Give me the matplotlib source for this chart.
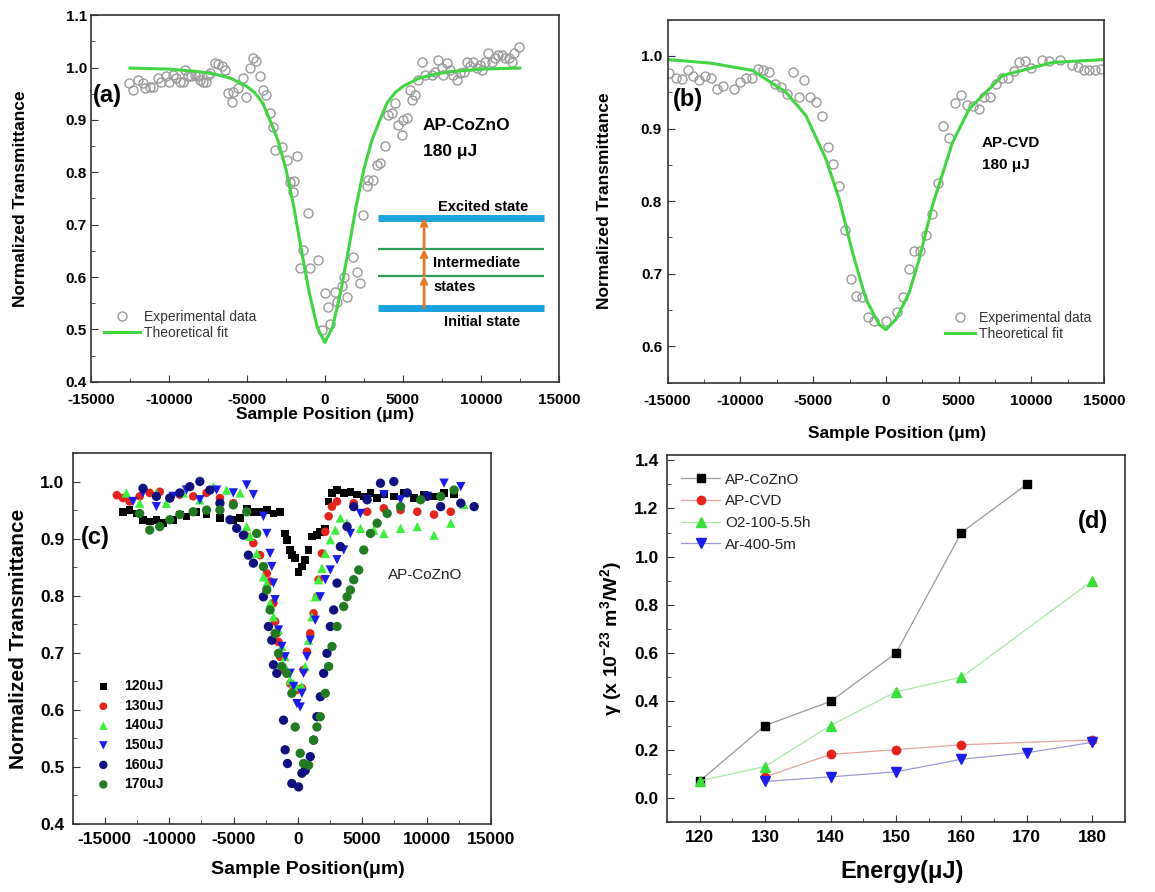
import matplotlib
matplotlib.use("Agg")
import matplotlib.pyplot as plt
from matplotlib.ticker import MultipleLocator, FormatStrFormatter

plt.rcParams['font.family'] = ['Liberation Sans', 'DejaVu Sans']
plt.rcParams['axes.unicode_minus'] = False
plt.rcParams['mathtext.fontset'] = 'custom'
plt.rcParams['mathtext.rm'] = 'Liberation Sans:bold'
plt.rcParams['mathtext.it'] = 'Liberation Sans:bold'

# ---- (a) AP-CoZnO, 180 uJ open-aperture z-scan ----
a_pos = [-12570, -12310, -11990, -11670, -11560, -11240, -11030, -10710, -10490, -10170,
         -10000, -9740, -9530, -9310, -9100, -8990, -8780, -8560, -8350, -8140,
         -8030, -7810, -7600, -7490, -7340, -7070, -6850, -6570, -6420, -6210,
         -5990, -5890, -5570, -5250, -5030, -4820, -4600, -4390, -4170, -3960,
         -3750, -3530, -3360, -3210, -2780, -2460, -2250, -2030, -1990, -1780,
         -1070, -1390, -1610, -960, -430, -210, 0, 210, 320, 640,
         790, 1070, 1220, 1430, 1820, 2030, 2250, 2420, 2680, 2780,
         3100, 3320, 3530, 3850, 4070, 4280, 4500, 4710, 4920, 5030,
         5250, 5460, 5570, 5780, 5990, 6210, 6420, 6850, 7070, 7280,
         7490, 7600, 7810, 8030, 8240, 8460, 8670, 8890, 9100, 9310,
         9530, 9740, 9960, 10060, 10280, 10490, 10710, 10920, 11070, 11350,
         11560, 11780, 11990, 12100, 12420]
a_T = [0.971, 0.957, 0.976, 0.970, 0.961, 0.962, 0.962, 0.980, 0.973, 0.983,
       0.973, 0.986, 0.980, 0.973, 0.973, 0.996, 0.984, 0.984, 0.986, 0.984,
       0.976, 0.973, 0.973, 0.986, 0.990, 1.008, 1.006, 1.003, 0.996, 0.951,
       0.935, 0.954, 0.961, 0.980, 0.943, 0.999, 1.018, 1.013, 0.984, 0.957,
       0.948, 0.913, 0.886, 0.843, 0.849, 0.824, 0.782, 0.763, 0.784, 0.831,
       0.722, 0.652, 0.617, 0.617, 0.632, 0.499, 0.569, 0.543, 0.511, 0.572,
       0.553, 0.582, 0.601, 0.562, 0.639, 0.610, 0.588, 0.718, 0.773, 0.785,
       0.785, 0.814, 0.817, 0.850, 0.910, 0.913, 0.932, 0.890, 0.871, 0.900,
       0.903, 0.957, 0.938, 0.948, 0.976, 1.011, 0.986, 0.986, 0.992, 1.015,
       0.999, 0.986, 1.008, 0.996, 0.986, 0.976, 0.989, 0.992, 1.011, 1.002,
       1.011, 0.999, 1.005, 0.996, 1.011, 1.027, 1.011, 1.018, 1.024, 1.024,
       1.018, 1.018, 1.011, 1.027, 1.040]
a_fit_pos = [-12500, -10000, -8000, -7000, -6000, -5000, -4500, -4000, -3500, -3000,
             -2500, -2000, -1500, -1000, -500, 0, 500, 1000, 1500, 2000,
             2500, 3000, 3500, 4000, 4500, 5000, 6000, 7000, 8000, 10000, 12500]
a_fit_T = [0.999, 0.997, 0.992, 0.987, 0.979, 0.964, 0.952, 0.933, 0.898, 0.860,
           0.806, 0.735, 0.650, 0.570, 0.505, 0.475, 0.505, 0.570, 0.650, 0.735,
           0.806, 0.860, 0.898, 0.933, 0.952, 0.964, 0.979, 0.987, 0.992, 0.997, 0.999]

# ---- (b) AP-CVD, 180 uJ ----
b_pos = [-14890, -14430, -14010, -13630, -13240, -12820, -12410, -12020, -11630, -11220,
         -10420, -10030, -9620, -9210, -8820, -8430, -8020, -7600, -7210, -6800,
         -6410, -6000, -5610, -5220, -4810, -4420, -4010, -3620, -3210, -2820,
         -2400, -2020, -1650, -1210, -800, 0, 760, 1150, 1560, 1950,
         2360, 2750, 3160, 3550, 3940, 4350, 4760, 5150, 5560, 6000,
         6370, 6760, 7150, 7560, 7970, 8360, 8770, 9160, 9570, 9960,
         10760, 11180, 11950, 12780, 13170, 13580, 13970, 14380, 14770]
b_T = [0.977, 0.969, 0.968, 0.981, 0.972, 0.967, 0.972, 0.970, 0.954, 0.959,
       0.954, 0.964, 0.969, 0.970, 0.982, 0.981, 0.978, 0.962, 0.957, 0.947,
       0.978, 0.943, 0.967, 0.943, 0.937, 0.917, 0.874, 0.851, 0.821, 0.760,
       0.693, 0.669, 0.668, 0.641, 0.635, 0.635, 0.648, 0.668, 0.707, 0.731,
       0.731, 0.754, 0.782, 0.825, 0.904, 0.887, 0.935, 0.946, 0.933, 0.931,
       0.927, 0.943, 0.943, 0.962, 0.969, 0.969, 0.979, 0.992, 0.993, 0.983,
       0.995, 0.993, 0.994, 0.988, 0.985, 0.980, 0.980, 0.980, 0.982]
b_fit_pos = [-15000, -12000, -9160, -6870, -5500, -4120, -3210, -2290, -1370, -460,
             0, 690, 1600, 2290, 3200, 4580, 5730, 8020, 11450, 15000]
b_fit_T = [0.995, 0.990, 0.980, 0.950, 0.918, 0.858, 0.803, 0.729, 0.665, 0.630,
           0.623, 0.637, 0.674, 0.720, 0.794, 0.881, 0.927, 0.973, 0.991, 0.995]

# ---- (c) AP-CoZnO at several pulse energies ----
c_labels = ['120uJ', '130uJ', '140uJ', '150uJ', '160uJ', '170uJ']
c_pos_120 = [-13600, -13080, -12560, -12040, -11520, -11000, -10480, -9700, -9180, -8660,
             -7880, -7100, -6060, -5020, -4500, -3980, -3460, -2940, -2420, -1900,
             -1380, -990, -860, -600, -470, -210, 50, 310, 570, 830,
             1090, 1480, 1740, 2130, 2390, 2650, 3040, 3560, 4080, 4600,
             5120, 5640, 6160, 6680, 7460, 8240, 9020, 9800, 10580, 11360, 12140]
c_T_120 = [0.947, 0.950, 0.944, 0.933, 0.930, 0.933, 0.927, 0.933, 0.942, 0.939,
           0.947, 0.942, 0.936, 0.933, 0.936, 0.953, 0.947, 0.947, 0.950, 0.944,
           0.947, 0.909, 0.898, 0.880, 0.871, 0.866, 0.842, 0.851, 0.863, 0.880,
           0.904, 0.906, 0.912, 0.918, 0.965, 0.980, 0.985, 0.980, 0.982, 0.977,
           0.974, 0.980, 0.971, 0.977, 0.974, 0.980, 0.971, 0.977, 0.974, 0.980, 0.977]
c_pos_130 = [-14070, -13600, -13080, -12300, -11520, -10740, -9960, -9180, -8140, -7100,
             -6060, -5020, -4110, -3460, -2940, -2680, -2420, -2160, -1900, -1770,
             -1640, -1510, -1380, -1120, -860, -600, -340, -80, 310, 440,
             700, 960, 1220, 1480, 1610, 1870, 2130, 2390, 2650, 3040,
             4340, 5380, 6680, 7980, 9280, 10580, 11880]
c_T_130 = [0.976, 0.971, 0.965, 0.974, 0.980, 0.982, 0.971, 0.977, 0.974, 0.980,
           0.971, 0.962, 0.906, 0.892, 0.871, 0.851, 0.839, 0.825, 0.787, 0.755,
           0.734, 0.719, 0.693, 0.670, 0.664, 0.646, 0.641, 0.635, 0.638, 0.670,
           0.702, 0.734, 0.769, 0.798, 0.828, 0.874, 0.912, 0.939, 0.956, 0.965,
           0.962, 0.947, 0.953, 0.950, 0.947, 0.942, 0.947]
c_pos_140 = [-13340, -12300, -11000, -10220, -8920, -7620, -6580, -5540, -4500, -3980,
             -3720, -3200, -2680, -2420, -2160, -1900, -1510, -1250, -990, -860,
             -600, -340, -80, 310, 570, 830, 1090, 1350, 1610, 1870,
             2130, 2520, 2910, 3300, 3820, 4860, 5900, 6680, 7980, 9280,
             10580, 11880, 12900]
c_T_140 = [0.980, 0.962, 0.980, 0.962, 0.980, 0.968, 0.991, 0.985, 0.980, 0.921,
           0.904, 0.874, 0.833, 0.822, 0.787, 0.763, 0.740, 0.711, 0.693, 0.670,
           0.652, 0.646, 0.641, 0.641, 0.676, 0.722, 0.763, 0.798, 0.828, 0.848,
           0.874, 0.898, 0.915, 0.936, 0.927, 0.918, 0.915, 0.909, 0.918, 0.921,
           0.906, 0.927, 0.960]
c_pos_150 = [-12820, -12040, -11000, -9700, -8660, -7620, -6320, -5020, -3980, -3460,
             -2680, -2420, -2160, -2030, -1900, -1770, -1510, -1250, -990, -600,
             -340, -80, 180, 310, 440, 700, 960, 1350, 1740, 2130,
             2520, 3040, 3560, 4080, 4860, 5380, 6680, 7980, 10060, 11360, 12660]
c_T_150 = [0.965, 0.980, 0.956, 0.974, 0.985, 0.968, 0.985, 0.980, 0.994, 0.977,
           0.939, 0.909, 0.874, 0.851, 0.822, 0.793, 0.740, 0.711, 0.693, 0.664,
           0.641, 0.611, 0.605, 0.629, 0.664, 0.693, 0.722, 0.757, 0.798, 0.828,
           0.845, 0.863, 0.880, 0.909, 0.944, 0.968, 0.977, 0.968, 0.974, 0.997, 0.991]
c_pos_160 = [-12040, -11000, -9960, -9180, -8400, -7620, -6840, -6060, -5280, -4760,
             -4240, -3850, -3460, -2680, -2290, -2030, -1900, -1640, -1120, -990,
             -810, -470, 50, 310, 570, 960, 1220, 1480, 1740, 2000,
             2260, 2520, 2780, 3040, 3300, 3820, 4340, 5380, 6420, 7460,
             8500, 10060, 11100, 12660, 13700]
c_T_160 = [0.988, 0.974, 0.971, 0.980, 0.991, 1.000, 0.985, 0.962, 0.933, 0.918,
           0.906, 0.871, 0.857, 0.798, 0.746, 0.722, 0.679, 0.664, 0.582, 0.530,
           0.506, 0.471, 0.465, 0.489, 0.494, 0.518, 0.547, 0.588, 0.623, 0.664,
           0.699, 0.746, 0.775, 0.822, 0.886, 0.921, 0.956, 0.968, 0.997, 1.000,
           0.980, 0.974, 0.956, 0.962, 0.956]
c_pos_170 = [-12300, -11520, -10740, -9960, -9180, -8140, -7100, -6060, -5020, -3980,
             -3200, -2680, -2420, -2160, -1770, -1510, -1250, -860, -470, -210,
             180, 440, 830, 1220, 1480, 1740, 2130, 2390, 2650, 3040,
             3560, 3820, 4080, 4340, 4730, 5120, 5640, 6160, 6940, 7980,
             9540, 11100, 12140]
c_T_170 = [0.944, 0.915, 0.921, 0.933, 0.942, 0.947, 0.950, 0.950, 0.959, 0.947,
           0.909, 0.851, 0.810, 0.775, 0.734, 0.699, 0.676, 0.664, 0.629, 0.570,
           0.524, 0.506, 0.503, 0.547, 0.570, 0.588, 0.629, 0.676, 0.711, 0.746,
           0.781, 0.798, 0.810, 0.828, 0.845, 0.880, 0.909, 0.927, 0.944, 0.956,
           0.968, 0.974, 0.985]

# ---- (d) nonlinear absorption coefficient vs. energy ----
d_E_cozno = [120, 130, 140, 150, 160, 170]
d_g_cozno = [0.07, 0.30, 0.40, 0.60, 1.10, 1.30]
d_E_cvd = [130, 140, 150, 160, 180]
d_g_cvd = [0.087, 0.18, 0.20, 0.22, 0.24]
d_E_o2 = [120, 130, 140, 150, 160, 180]
d_g_o2 = [0.07, 0.13, 0.30, 0.44, 0.50, 0.90]
d_E_ar = [130, 140, 150, 160, 170, 180]
d_g_ar = [0.068, 0.087, 0.108, 0.16, 0.187, 0.23]

FIT_GREEN = '#42d442'
SPINE = '#333333'


def style_axes(ax, fs, pad=4, xpad=None):
    for s in ax.spines.values():
        s.set_color(SPINE)
        s.set_linewidth(1.2)
    ax.tick_params(which='both', direction='in', top=False, right=False,
                   labelsize=fs, colors=SPINE, labelcolor='black', pad=pad)
    if xpad is not None:
        ax.tick_params(axis='x', which='both', pad=xpad)
    ax.tick_params(which='major', length=5)
    ax.tick_params(which='minor', length=3)
    for lab in ax.get_xticklabels() + ax.get_yticklabels():
        lab.set_fontweight('bold')


def z_scan_axes(ax, ylo, yhi, xlo=-15000):
    ax.set_xlim(xlo, 15000)
    ax.set_ylim(ylo, yhi)
    ax.xaxis.set_major_locator(MultipleLocator(5000))
    ax.xaxis.set_minor_locator(MultipleLocator(2500))
    ax.yaxis.set_major_locator(MultipleLocator(0.1))
    ax.yaxis.set_minor_locator(MultipleLocator(0.05))
    ax.yaxis.set_major_formatter(FormatStrFormatter('%.1f'))


fig = plt.figure(figsize=(11.55, 8.92), dpi=100)

# panel (a)
ax = fig.add_axes([0.0788, 0.572, 0.405, 0.411])
ax.plot(a_pos, a_T, 'o', ms=6.5, mfc='none', mec='#9a9a9a', mew=1.0, label='Experimental data')
ax.plot(a_fit_pos, a_fit_T, '-', color=FIT_GREEN, lw=2.2, label='Theoretical fit')
z_scan_axes(ax, 0.4, 1.1)
style_axes(ax, 11, pad=3, xpad=8)
ax.set_xlabel('Sample Position (μm)', fontsize=12.5, fontweight='bold')
ax.set_ylabel('Normalized Transmittance', fontsize=12.5, fontweight='bold')
ax.yaxis.set_label_coords(-0.135, 0.5)
ax.xaxis.set_label_coords(0.5, -0.068)
ax.legend(loc='lower left', bbox_to_anchor=(0.0, 0.08), frameon=False, fontsize=10,
          handlelength=2.6, handletextpad=0.3, labelspacing=0.15, labelcolor='#333333')
ax.text(0.005, 0.78, '(a)', transform=ax.transAxes, fontsize=17, fontweight='bold', va='center')
ax.text(0.709, 0.698, 'AP-CoZnO', transform=ax.transAxes, fontsize=12.5, fontweight='bold', va='center')
ax.text(0.709, 0.627, '180 μJ', transform=ax.transAxes, fontsize=12.5, fontweight='bold', va='center')
# energy level sketch
for yy, col, lw in [(0.447, '#1aa3dd', 5), (0.202, '#1aa3dd', 5), (0.362, '#2e9e5b', 1.6), (0.289, '#2e9e5b', 1.6)]:
    ax.plot([0.613, 0.968], [yy, yy], transform=ax.transAxes, color=col, lw=lw, solid_capstyle='butt')
for y0, y1 in [(0.202, 0.289), (0.289, 0.362), (0.362, 0.447)]:
    ax.annotate('', xy=(0.712, y1), xytext=(0.712, y0), xycoords='axes fraction',
                arrowprops=dict(arrowstyle='->', color='#e07a2a', lw=2, shrinkA=0, shrinkB=0))
ax.text(0.838, 0.477, 'Excited state', transform=ax.transAxes, fontsize=10.5, fontweight='bold', ha='center', va='center')
ax.text(0.731, 0.324, 'Intermediate', transform=ax.transAxes, fontsize=10.5, fontweight='bold', va='center')
ax.text(0.731, 0.259, 'states', transform=ax.transAxes, fontsize=10.5, fontweight='bold', va='center')
ax.text(0.835, 0.163, 'Initial state', transform=ax.transAxes, fontsize=10.5, fontweight='bold', ha='center', va='center')

# panel (b)
ax = fig.add_axes([0.578, 0.571, 0.378, 0.407])
ax.plot(b_pos, b_T, 'o', ms=6.5, mfc='none', mec='#9a9a9a', mew=1.0, label='Experimental data')
ax.plot(b_fit_pos, b_fit_T, '-', color=FIT_GREEN, lw=2.2, label='Theoretical fit')
z_scan_axes(ax, 0.55, 1.05)
style_axes(ax, 11, xpad=8)
ax.set_xlabel('Sample Position (μm)', fontsize=12.5, fontweight='bold')
ax.set_ylabel('Normalized Transmittance', fontsize=12.5, fontweight='bold')
ax.yaxis.set_label_coords(-0.128, 0.5)
ax.xaxis.set_label_coords(0.526, -0.12)
ax.legend(loc='lower right', bbox_to_anchor=(1.0, 0.08), frameon=False, fontsize=10,
          handlelength=2.2, handletextpad=0.3, labelspacing=0.15, labelcolor='#333333')
ax.text(0.012, 0.78, '(b)', transform=ax.transAxes, fontsize=17, fontweight='bold', va='center')
ax.text(0.72, 0.66, 'AP-CVD', transform=ax.transAxes, fontsize=11, fontweight='bold', va='center')
ax.text(0.72, 0.60, '180 μJ', transform=ax.transAxes, fontsize=11, fontweight='bold', va='center')

# panel (c)
ax = fig.add_axes([0.063, 0.0762, 0.362, 0.416])
c_series = [
    (c_pos_120, c_T_120, 's', '#000000', 30),
    (c_pos_130, c_T_130, 'o', '#e3241c', 38),
    (c_pos_140, c_T_140, '^', '#3bef3b', 45),
    (c_pos_150, c_T_150, 'v', '#1c1ce8', 45),
    (c_pos_160, c_T_160, 'o', '#10107e', 45),
    (c_pos_170, c_T_170, 'o', '#227a22', 45),
]
for (xs, ys, mk, col, sz), lab in zip(c_series, c_labels):
    ax.scatter(xs, ys, marker=mk, s=sz, color=col, edgecolors='none', label=lab)
z_scan_axes(ax, 0.4, 1.05, xlo=-17500)
style_axes(ax, 12.5, pad=6)
ax.set_xlabel('Sample Position(μm)', fontsize=14, fontweight='bold')
ax.set_ylabel('Normalized Transmittance', fontsize=15, fontweight='bold')
ax.yaxis.set_label_coords(-0.108, 0.5)
ax.xaxis.set_label_coords(0.562, -0.1)
leg = ax.legend(loc='lower left', bbox_to_anchor=(0.01, 0.055), frameon=False, fontsize=10,
                handletextpad=0.5, labelspacing=0.4, markerscale=0.9)
for t in leg.get_texts():
    t.set_fontweight('bold')
ax.text(0.02, 0.771, '(c)', transform=ax.transAxes, fontsize=17, fontweight='bold', va='center')
ax.text(0.755, 0.67, 'AP-CoZnO', transform=ax.transAxes, fontsize=11, va='center', color='#222222')

# panel (d)
ax = fig.add_axes([0.5775, 0.0785, 0.3965, 0.411])
ax.plot(d_E_cozno, d_g_cozno, '-s', color='#999999', lw=0.9, ms=5.5, mfc='black', mec='black', label='AP-CoZnO')
ax.plot(d_E_cvd, d_g_cvd, '-o', color='#e8a0a0', lw=0.9, ms=6, mfc='#e3241c', mec='#e3241c', label='AP-CVD')
ax.plot(d_E_o2, d_g_o2, '-^', color='#a8e8a8', lw=0.9, ms=7, mfc='#3bdf3b', mec='#3bdf3b', label='O2-100-5.5h')
ax.plot(d_E_ar, d_g_ar, '-v', color='#9a9ad8', lw=0.9, ms=7, mfc='#1c1ce8', mec='#1c1ce8', label='Ar-400-5m')
ax.set_xlim(115, 185)
ax.set_ylim(-0.1, 1.42)
ax.xaxis.set_major_locator(MultipleLocator(10))
ax.xaxis.set_minor_locator(MultipleLocator(5))
ax.yaxis.set_major_locator(MultipleLocator(0.2))
ax.yaxis.set_minor_locator(MultipleLocator(0.1))
ax.yaxis.set_major_formatter(FormatStrFormatter('%.1f'))
style_axes(ax, 12.5, pad=6)
ax.set_xlabel('Energy(μJ)', fontsize=17, fontweight='bold')
ax.set_ylabel('γ (x 10$^{-23}$ m$^3$/W$^2$)', fontsize=14, fontweight='bold')
ax.yaxis.set_label_coords(-0.095, 0.5)
ax.xaxis.set_label_coords(0.513, -0.105)
ax.legend(loc='upper left', bbox_to_anchor=(0.0, 0.99), frameon=False, fontsize=11,
          handlelength=2.6, handletextpad=0.3, labelspacing=0.5, labelcolor='#222222')
ax.text(0.93, 0.82, '(d)', transform=ax.transAxes, fontsize=17, fontweight='bold', ha='center', va='center')

fig.savefig('out.png', dpi=100)
